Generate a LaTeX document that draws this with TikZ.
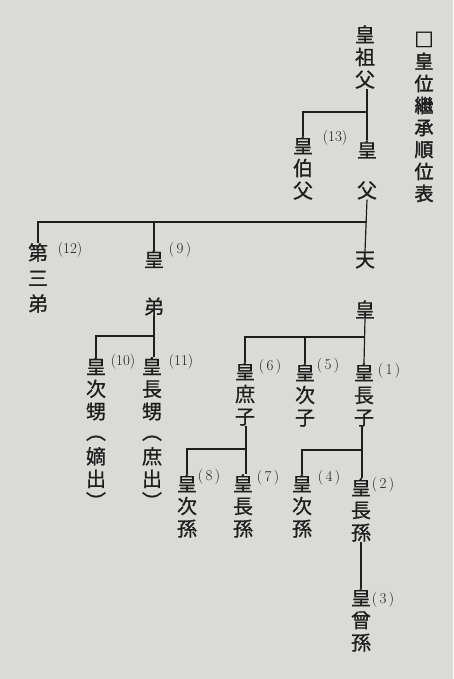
\documentclass[tikz,border=0pt]{standalone}
\usepackage{fontspec}
\newfontfamily\cjk[FakeBold=0.8]{Noto Sans CJK JP}
\newfontfamily\cjkb[FakeBold=2]{Noto Sans CJK JP}
\definecolor{paper}{RGB}{218,218,214}
\definecolor{ink}{RGB}{30,30,30}
\begin{document}
\begin{tikzpicture}[x=1pt,y=-1pt,
  vt/.style={font=\cjk\fontsize{20}{22.5}\selectfont, align=center, inner sep=0pt, text=ink},
  ttl/.style={font=\cjkb\fontsize{19}{22}\selectfont, align=center, inner sep=0pt, text=ink},
  num/.style={font=\fontsize{15}{15}\selectfont, inner sep=0pt, text=ink},
  conn/.style={draw=ink, line width=1.2pt}]
\fill[paper] (0,0) rectangle (453,679);
\useasboundingbox (0,0) rectangle (453,679);
% title
\node[ttl] (title) at (424,117) {□\\皇\\位\\繼\\承\\順\\位\\表};
% people
\node[vt] (gf) at (365,57) {皇\\祖\\父};
\node[vt] (fa) at (367,170) {皇\\[18pt]父};
\node[vt] (un) at (303,168) {皇\\伯\\父};
\node[num] (n13) at (335,138) {(13)};
\node[vt] (em) at (365,285) {天\\[28pt]皇};
\node[vt] (tb) at (38,278) {第\\[3pt]三\\[3pt]弟};
\node[num] (n12) at (70,250) {(12)};
\node[vt] (br) at (154,283) {皇\\[25pt]弟};
\node[num] (n9) at (180,250) {(\,9\,)};
\node[vt] (s1) at (364,395) {皇\\長\\子};
\node[num] (n1) at (389,371) {(\,1\,)};
\node[vt] (s2) at (305,395) {皇\\次\\子};
\node[num] (n5) at (328,366) {(\,5\,)};
\node[vt] (s3) at (245,394) {皇\\庶\\子};
\node[num] (n6) at (270,367) {(\,6\,)};
\node[vt] (ne2) at (96,433) {皇\\次\\甥\\[-2pt]︵\\[2pt]嫡\\出\\︶};
\node[num] (n10) at (123,362) {(10)};
\node[vt] (ne1) at (152,433) {皇\\長\\甥\\[-2pt]︵\\[2pt]庶\\出\\︶};
\node[num] (n11) at (181,362) {(11)};
\node[vt] (g8) at (187,506) {皇\\次\\孫};
\node[num] (n8) at (209,477) {(\,8\,)};
\node[vt] (g7) at (243,506) {皇\\長\\孫};
\node[num] (n7) at (268,478) {(\,7\,)};
\node[vt] (g4) at (302,506) {皇\\次\\孫};
\node[num] (n4) at (329,478) {(\,4\,)};
\node[vt] (g2) at (361,510) {皇\\長\\孫};
\node[num] (n2) at (383,485) {(\,2\,)};
\node[vt] (gg) at (361,620) {皇\\曾\\孫};
\node[num] (n3) at (383,600) {(\,3\,)};
% junctions
\coordinate (j1) at (367,112);
\coordinate (j2) at (367,222);
\coordinate (j3) at (365,337);
\coordinate (j4) at (155,336);
\coordinate (j5) at (246,449);
\coordinate (j6) at (362,450);
% connectors
\draw[conn] (gf.south -| fa.north) -- (fa.north);
\draw[conn] (un.north) |- (j1);
\draw[conn] (fa.south) -- (em.north);
\draw[conn] (tb.north) |- (j2);
\draw[conn] (br.north) |- (j2);
\draw[conn] (em.south) -- (s1.north);
\draw[conn] (s3.north) |- (j3);
\draw[conn] (s2.north) -- (s2.north |- j3);
\draw[conn] (br.south) -- (br.south |- ne1.north);
\draw[conn] (ne2.north) |- (j4);
\draw[conn] (s3.south -| j5) -- (j5) -- (j5 |- g7.north);
\draw[conn] (g8.north) |- (j5);
\draw[conn] (s1.south -| j6) -- (j6) -- (j6 |- g2.north);
\draw[conn] (g4.north) |- (j6);
\draw[conn] (g2.south) -- (gg.north);
\end{tikzpicture}
\end{document}
